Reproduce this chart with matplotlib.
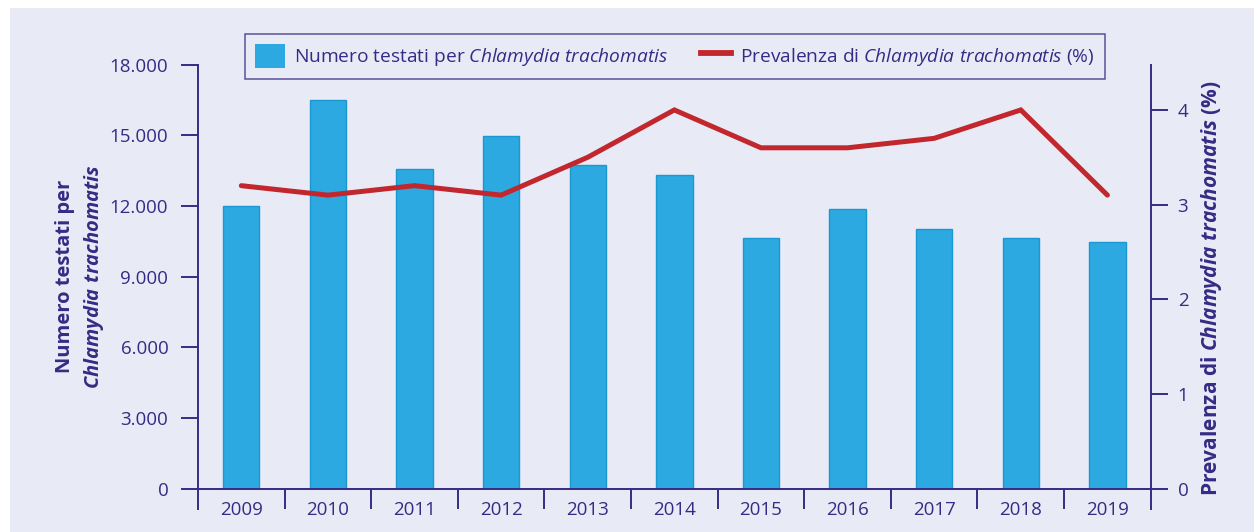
import numpy as np
import matplotlib
matplotlib.use("Agg")
import matplotlib.pyplot as plt
from matplotlib.patches import Patch, Rectangle
from matplotlib.lines import Line2D

# ============================================
# DATA
# ============================================
years = ["2009", "2010", "2011", "2012", "2013", "2014",
         "2015", "2016", "2017", "2018", "2019"]
tested = [12000, 16500, 13550, 14950, 13750, 13300,
          10650, 11850, 11000, 10630, 10450]
prevalence = [3.2, 3.1, 3.2, 3.1, 3.5, 4.0, 3.6, 3.6, 3.7, 4.0, 3.1]

left_ticks = [0, 3000, 6000, 9000, 12000, 15000, 18000]
right_ticks = [0, 1, 2, 3, 4]

# ============================================
# STYLE
# ============================================
INK = "#372A84"
BG = "#E8EBF6"
BAR = "#2DA9E1"
BAR_EDGE = "#1B98D2"
RED = "#C1272D"

plt.rcParams["font.family"] = ["Open Sans", "DejaVu Sans"]
plt.rcParams["mathtext.fontset"] = "custom"
plt.rcParams["mathtext.rm"] = "Open Sans"
plt.rcParams["mathtext.it"] = "Open Sans:italic"
plt.rcParams["mathtext.bf"] = "Open Sans:bold"
plt.rcParams["mathtext.bfit"] = "Open Sans:italic:bold"
plt.rcParams["text.color"] = INK

fig = plt.figure(figsize=(12.54, 5.32), dpi=100, facecolor="white")
fig.patches.append(Rectangle((10 / 1254, 0), 1, 1 - 7.5 / 532,
                             transform=fig.transFigure, facecolor=BG,
                             edgecolor="none", zorder=-10))

ax = fig.add_axes([198 / 1254, 1 - 488.6 / 532, 952.7 / 1254, 424.1 / 532])
ax.set_facecolor("none")
ax2 = ax.twinx()

x = np.arange(len(years))

# ============================================
# BARS + LINE
# ============================================
ax.bar(x, tested, width=0.42, color=BAR, edgecolor=BAR_EDGE, linewidth=1.0,
       zorder=2)
ax2.plot(x, prevalence, color=RED, linewidth=3.6, solid_capstyle="round",
         solid_joinstyle="miter", zorder=3)

ax.set_xlim(-0.5, len(years) - 0.5)
ax.set_ylim(0, 18000)
ax2.set_ylim(0, 4.48)

# spines
below = 20.4 / 424.1
for sp in ["top", "right"]:
    ax.spines[sp].set_visible(False)
for sp in ["top", "left", "bottom"]:
    ax2.spines[sp].set_visible(False)
ax.spines["left"].set_color(INK)
ax.spines["left"].set_linewidth(1.4)
ax.spines["left"].set_bounds(-18000 * below, 18000)
ax.spines["bottom"].set_color(INK)
ax.spines["bottom"].set_linewidth(1.4)
ax2.spines["right"].set_color(INK)
ax2.spines["right"].set_linewidth(1.4)
ax2.spines["right"].set_bounds(-4.48 * below, 4.48)

# ticks
ax.set_yticks(left_ticks)
ax.set_yticklabels([f"{v:,}".replace(",", ".") for v in left_ticks])
ax.tick_params(axis="y", length=12.2, width=1.4, color=INK, labelcolor=INK,
               labelsize=13.5, pad=9.2)
ax2.set_yticks(right_ticks)
ax2.set_yticklabels([str(v) for v in right_ticks])
ax2.tick_params(axis="y", length=12.2, width=1.4, color=INK, labelcolor=INK,
                labelsize=13.5, pad=7.2)

ax.set_xticks(x)
ax.set_xticklabels(years)
ax.set_xticks(np.arange(0.5, len(years) - 1, 1.0), minor=True)
ax.tick_params(axis="x", which="major", length=0, labelcolor=INK,
               labelsize=13.5, pad=9.0)
ax.tick_params(axis="x", which="minor", length=14.7, width=1.4, color=INK)

# axis labels
fig.text(65 / 1254, 1 - 276.6 / 532, "Numero testati per", rotation=90,
         ha="center", va="center", fontsize=14.5, fontweight="bold", color=INK)
fig.text(94 / 1254, 1 - 276.6 / 532, r"$\mathbfit{Chlamydia\ trachomatis}$",
         rotation=90, ha="center", va="center", fontsize=14.5, color=INK)
fig.text(1211.7 / 1254, 1 - 288 / 532,
         r"Prevalenza di $\mathbfit{Chlamydia\ trachomatis}$ (%)",
         rotation=90, ha="center", va="center", fontsize=15,
         fontweight="bold", color=INK)

# legend
handles = [Patch(facecolor=BAR, edgecolor="none"),
           Line2D([], [], color=RED, linewidth=4.2)]
labels = [r"Numero testati per $\mathit{Chlamydia\ trachomatis}$",
          r"Prevalenza di $\mathit{Chlamydia\ trachomatis}$ (%)"]
leg = fig.legend(handles, labels, loc="upper left",
                 bbox_to_anchor=(245 / 1254, 1 - 34 / 532), ncol=2,
                 fontsize=13.8, frameon=True, fancybox=False, borderaxespad=0,
                 borderpad=0.54, handlelength=1.56, handleheight=1.5,
                 handletextpad=0.47, columnspacing=1.72)
leg.get_frame().set_edgecolor(INK)
leg.get_frame().set_linewidth(1.1)
leg.get_frame().set_facecolor(BG)
for t in leg.get_texts():
    t.set_color(INK)

fig.savefig("out.png", dpi=100, facecolor=fig.get_facecolor())
